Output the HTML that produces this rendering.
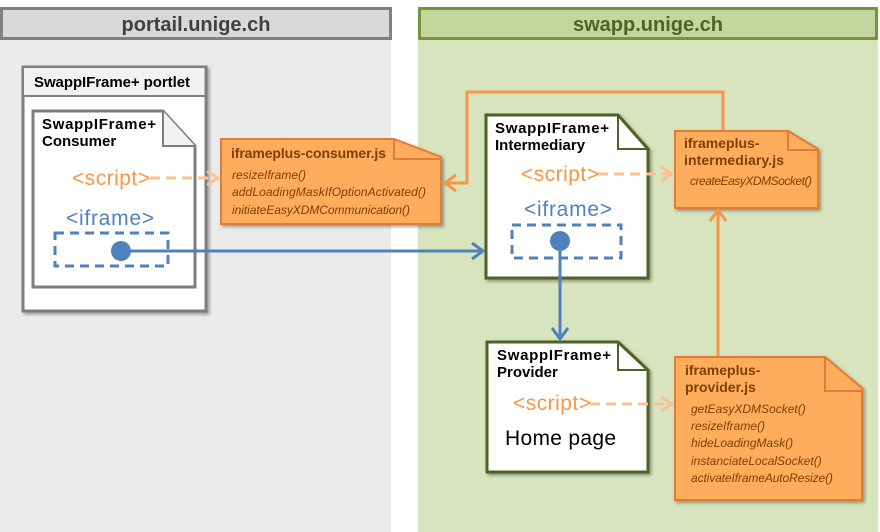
<!DOCTYPE html><html><head><style>body{margin:0;background:#fff}svg{display:block}text{font-family:"Liberation Sans",sans-serif}</style></head><body>
<svg width="880" height="532" xmlns="http://www.w3.org/2000/svg">
<defs><filter id="s"><feDropShadow dx="2" dy="2" stdDeviation="1.5" flood-opacity="0.35"/></filter></defs>
<rect x="0" y="38" width="391" height="494" fill="#ebebeb"/>
<rect x="1.5" y="8.5" width="389" height="30" fill="#d9d9d9" stroke="#808080" stroke-width="3"/>
<text x="196" y="31" font-size="20" font-weight="bold" fill="#404040" text-anchor="middle">portail.unige.ch</text>
<rect x="418" y="38" width="460" height="494" fill="#d7e4bd"/>
<rect x="419.5" y="8.5" width="457" height="30" fill="#c3d69b" stroke="#77933c" stroke-width="3"/>
<text x="648" y="31" font-size="20" font-weight="bold" fill="#4f6228" text-anchor="middle">swapp.unige.ch</text>
<!-- portlet -->
<g filter="url(#s)"><rect x="23" y="67" width="183" height="244" fill="#fff" stroke="#7f7f7f" stroke-width="3"/></g>
<rect x="24" y="68" width="180" height="28" fill="#f2f2f2"/><line x1="23" y1="96" x2="206" y2="96" stroke="#7f7f7f" stroke-width="2"/>
<text x="34" y="87" font-size="15" font-weight="bold" fill="#000" textLength="156">SwappIFrame+ portlet</text>
<path d="M33 111 H163 L195 146 V287 H33 Z" fill="#fff" stroke="#7f7f7f" stroke-width="3"/>
<path d="M163 111 V146 H195" fill="#f2f2f2" stroke="#7f7f7f" stroke-width="2"/>
<g font-size="15" font-weight="bold" fill="#000"><text x="42" y="129" textLength="114">SwappIFrame+</text><text x="42" y="146">Consumer</text></g>
<text x="72" y="185" font-size="21" fill="#f79646" textLength="78">&lt;script&gt;</text>
<text x="66" y="225" font-size="21" fill="#4f81bd" textLength="88">&lt;iframe&gt;</text>
<rect x="55" y="233" width="113" height="33" fill="none" stroke="#4f81bd" stroke-width="3" stroke-dasharray="9,6"/>
<!-- consumer js -->
<g filter="url(#s)"><path d="M221 139 H394 L441 157 V224 H221 Z" fill="#ffad5b" stroke="#e07b39" stroke-width="2"/></g>
<path d="M394 139 V159 H441" fill="none" stroke="#e07b39" stroke-width="2"/>
<text x="231" y="158" font-size="14" font-weight="bold" fill="#7f3f00" textLength="155">iframeplus-consumer.js</text>
<g font-size="12" font-style="italic" fill="#7f3f00"><text x="232" y="179">resizeIframe()</text><text x="232" y="196" textLength="194">addLoadingMaskIfOptionActivated()</text><text x="232" y="214" textLength="178">initiateEasyXDMCommunication()</text></g>
<!-- intermediary -->
<g filter="url(#s)"><path d="M486 115 H618 L648 149 V278 H486 Z" fill="#fff" stroke="#4f6228" stroke-width="3"/></g>
<path d="M618 115 V149 H648" fill="none" stroke="#4f6228" stroke-width="2"/>
<g font-size="15" font-weight="bold" fill="#000"><text x="495" y="133" textLength="114">SwappIFrame+</text><text x="495" y="150">Intermediary</text></g>
<text x="521" y="181" font-size="21" fill="#f79646" textLength="78">&lt;script&gt;</text>
<text x="524" y="216" font-size="21" fill="#4f81bd" textLength="88">&lt;iframe&gt;</text>
<rect x="512" y="225" width="109" height="33" fill="none" stroke="#4f81bd" stroke-width="3" stroke-dasharray="9,6"/>
<!-- intermediary js -->
<g filter="url(#s)"><path d="M675 131 H788 L818 149 V208 H675 Z" fill="#ffad5b" stroke="#e07b39" stroke-width="2"/></g>
<path d="M788 131 V150 H818" fill="none" stroke="#e07b39" stroke-width="2"/>
<text x="684" y="148" font-size="14" font-weight="bold" fill="#7f3f00">iframeplus-</text>
<text x="684" y="165" font-size="14" font-weight="bold" fill="#7f3f00" textLength="100">intermediary.js</text>
<text x="690" y="185" font-size="12" font-style="italic" fill="#7f3f00" textLength="122">createEasyXDMSocket()</text>
<!-- provider -->
<g filter="url(#s)"><path d="M487 342 H618 L648 370 V472 H487 Z" fill="#fff" stroke="#4f6228" stroke-width="3"/></g>
<path d="M618 342 V370 H648" fill="none" stroke="#4f6228" stroke-width="2"/>
<g font-size="15" font-weight="bold" fill="#000"><text x="497" y="360" textLength="114">SwappIFrame+</text><text x="497" y="377">Provider</text></g>
<text x="513" y="410" font-size="21" fill="#f79646" textLength="78">&lt;script&gt;</text>
<text x="505" y="445" font-size="21" fill="#000" textLength="111">Home page</text>
<!-- provider js -->
<g filter="url(#s)"><path d="M675 357 H825 L862 388 V500 H675 Z" fill="#ffad5b" stroke="#e07b39" stroke-width="2"/></g>
<path d="M825 357 V391 H862" fill="none" stroke="#e07b39" stroke-width="2"/>
<text x="685" y="375" font-size="14" font-weight="bold" fill="#7f3f00">iframeplus-</text>
<text x="685" y="392" font-size="14" font-weight="bold" fill="#7f3f00">provider.js</text>
<g font-size="12" font-style="italic" fill="#7f3f00"><text x="691" y="413">getEasyXDMSocket()</text><text x="691" y="430">resizeIframe()</text><text x="691" y="447">hideLoadingMask()</text><text x="691" y="465">instanciateLocalSocket()</text><text x="691" y="482" textLength="142">activateIframeAutoResize()</text></g>
<!-- dashed orange arrows -->
<g stroke="#fac090" stroke-width="3" fill="none">
<line x1="150" y1="178" x2="216" y2="178" stroke-dasharray="10,6"/><path d="M207 171 L218 178 L207 185"/>
<line x1="598" y1="174" x2="670" y2="174" stroke-dasharray="10,6"/><path d="M661 167 L672 174 L661 181"/>
<line x1="590" y1="404" x2="670" y2="404" stroke-dasharray="10,6"/><path d="M661 397 L672 404 L661 411"/>
</g>
<!-- solid orange arrows -->
<g stroke="#f79646" stroke-width="3" fill="none">
<path d="M723 130 V92 H467 V183 H446"/><path d="M456 175 L445 183 L456 191"/>
<path d="M718 356 V211"/><path d="M710 221 L718 210 L726 221"/>
</g>
<!-- blue -->
<g stroke="#4f81bd" stroke-width="3" fill="none">
<line x1="121" y1="251" x2="482" y2="251"/><path d="M472 243 L483 251 L472 259"/>
<line x1="560" y1="241" x2="560" y2="338"/><path d="M552 328 L560 339 L568 328"/>
</g>
<circle cx="121" cy="251" r="10" fill="#4f81bd"/>
<circle cx="560" cy="241" r="10" fill="#4f81bd"/>
</svg></body></html>
